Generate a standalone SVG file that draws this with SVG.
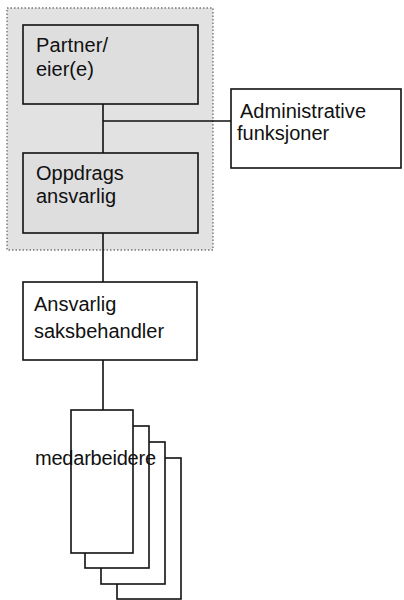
<svg xmlns="http://www.w3.org/2000/svg" width="404" height="600" viewBox="0 0 404 600">
<style>
.box{stroke:#111;stroke-width:1.6;}
.g{fill:#dedede;}
.w{fill:#fff;}
text{font-family:"Liberation Sans",Arial,sans-serif;font-size:20px;fill:#111;}
.c{stroke:#111;stroke-width:1.6;fill:none;}
</style>
<rect width="404" height="600" fill="#fff"/>
<rect id="group-area" x="7" y="8" width="206" height="242" fill="#e2e2e2" stroke="#777" stroke-width="1.4" stroke-dasharray="1.5 2"/>
<g id="connectors">
<path class="c" d="M103 104V153M103 121H231M103 233V282M103 360V410"/>
</g>
<g id="partner">
<rect class="box g" x="23" y="25" width="175" height="79"/>
<text x="36" y="52" textLength="72">Partner/</text>
<text x="36" y="76">eier(e)</text>
</g>
<g id="admin">
<rect class="box w" x="231" y="89" width="170" height="79"/>
<text x="240" y="118" textLength="126">Administrative</text>
<text x="237" y="140">funksjoner</text>
</g>
<g id="oppdrag">
<rect class="box g" x="23" y="153" width="175" height="80"/>
<text x="36" y="180">Oppdrags</text>
<text x="36" y="203">ansvarlig</text>
</g>
<g id="ansvarlig">
<rect class="box w" x="23" y="282" width="174" height="78"/>
<text x="34" y="311">Ansvarlig</text>
<text x="34" y="338">saksbehandler</text>
</g>
<g id="medarbeidere">
<rect class="box w" x="117" y="458" width="64" height="141"/>
<rect class="box w" x="101" y="442" width="64" height="142"/>
<rect class="box w" x="85" y="426" width="64" height="142"/>
<rect class="box w" x="71" y="410" width="62" height="143"/>
<text x="35" y="465" textLength="121">medarbeidere</text>
</g>
</svg>
